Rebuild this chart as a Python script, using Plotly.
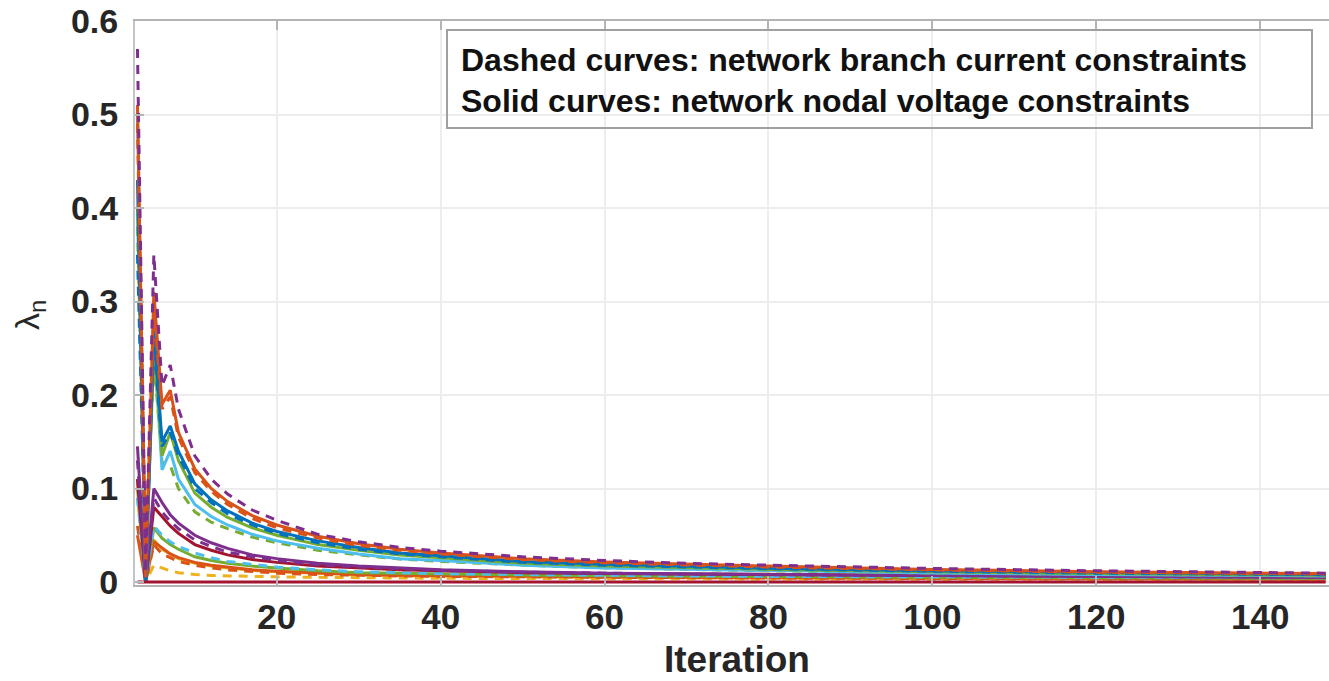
import plotly.graph_objects as go

# ---------------- data ----------------
ITER = [3, 4, 5, 6, 7, 8, 10, 12, 14, 17, 20, 25, 30, 35, 40, 50, 60, 70, 80, 100, 120, 148]

# upper group
purple_dash_u = [0.57, 0.01, 0.35, 0.21, 0.232, 0.185, 0.135, 0.11, 0.094, 0.077, 0.066, 0.051, 0.043, 0.037, 0.033, 0.027, 0.023, 0.020, 0.018, 0.0145, 0.012, 0.0095]
orange_solid_u = [0.51, 0.005, 0.31, 0.19, 0.205, 0.16, 0.121, 0.100, 0.086, 0.071, 0.061, 0.049, 0.041, 0.035, 0.031, 0.025, 0.0215, 0.019, 0.017, 0.0135, 0.011, 0.009]
orange_dash_u = [0.49, 0.02, 0.29, 0.185, 0.198, 0.155, 0.117, 0.097, 0.083, 0.068, 0.058, 0.047, 0.039, 0.034, 0.030, 0.024, 0.0205, 0.018, 0.016, 0.013, 0.0105, 0.0085]
blue_solid_u = [0.43, 0.0, 0.27, 0.15, 0.167, 0.14, 0.105, 0.088, 0.076, 0.063, 0.054, 0.044, 0.037, 0.031, 0.028, 0.022, 0.019, 0.0165, 0.0148, 0.012, 0.010, 0.008]
blue_dash_u = [0.35, 0.02, 0.26, 0.145, 0.16, 0.135, 0.100, 0.085, 0.073, 0.061, 0.052, 0.042, 0.035, 0.030, 0.027, 0.021, 0.018, 0.0158, 0.0142, 0.0115, 0.0095, 0.0078]
green_solid_u = [0.40, 0.01, 0.25, 0.135, 0.16, 0.13, 0.095, 0.080, 0.069, 0.058, 0.050, 0.040, 0.034, 0.029, 0.026, 0.020, 0.017, 0.015, 0.0135, 0.011, 0.009, 0.0072]
lblue_solid_u = [0.51, 0.0, 0.26, 0.12, 0.14, 0.11, 0.083, 0.070, 0.061, 0.051, 0.044, 0.036, 0.030, 0.025, 0.023, 0.018, 0.015, 0.0135, 0.012, 0.0097, 0.008, 0.0065]
green_dash_u = [0.38, 0.03, 0.24, 0.128, 0.125, 0.10, 0.075, 0.064, 0.057, 0.048, 0.042, 0.034, 0.029, 0.0245, 0.022, 0.018, 0.0152, 0.0133, 0.012, 0.0097, 0.0082, 0.0066]

# lower group
purple_solid_l = [0.145, 0.0, 0.10, 0.085, 0.072, 0.063, 0.050, 0.042, 0.036, 0.029, 0.025, 0.020, 0.017, 0.015, 0.013, 0.011, 0.0095, 0.0088, 0.008, 0.007, 0.006, 0.005]
purple_dash_l = [0.13, 0.0, 0.09, 0.075, 0.065, 0.057, 0.045, 0.038, 0.032, 0.027, 0.023, 0.0185, 0.016, 0.014, 0.0125, 0.0105, 0.0093, 0.0085, 0.0078, 0.0068, 0.006, 0.0052]
darkred_solid_l = [0.11, 0.0, 0.08, 0.07, 0.06, 0.052, 0.040, 0.034, 0.029, 0.024, 0.021, 0.017, 0.015, 0.013, 0.012, 0.010, 0.009, 0.0085, 0.0078, 0.0068, 0.006, 0.005]
lblue_dash_l = [0.09, 0.0, 0.06, 0.05, 0.043, 0.038, 0.031, 0.026, 0.022, 0.019, 0.016, 0.013, 0.011, 0.010, 0.009, 0.008, 0.007, 0.0065, 0.006, 0.0055, 0.005, 0.0045]
green_solid_l = [0.10, 0.0, 0.058, 0.047, 0.040, 0.035, 0.027, 0.023, 0.020, 0.017, 0.015, 0.012, 0.010, 0.0092, 0.0085, 0.0075, 0.0068, 0.0062, 0.0058, 0.005, 0.0045, 0.004]
orange_solid_l = [0.05, 0.0, 0.043, 0.036, 0.030, 0.026, 0.021, 0.018, 0.016, 0.013, 0.0115, 0.0095, 0.008, 0.0073, 0.0068, 0.006, 0.0055, 0.005, 0.0048, 0.0042, 0.0038, 0.0033]
orange_dash_l = [0.06, 0.0, 0.04, 0.03, 0.026, 0.022, 0.018, 0.015, 0.013, 0.011, 0.0095, 0.008, 0.007, 0.0065, 0.006, 0.0055, 0.005, 0.0046, 0.0042, 0.0038, 0.0034, 0.003]
yellow_solid_l = [0.09, 0.01, 0.045, 0.035, 0.030, 0.025, 0.020, 0.017, 0.015, 0.0125, 0.011, 0.009, 0.0078, 0.007, 0.0065, 0.0057, 0.005, 0.0047, 0.0044, 0.004, 0.0036, 0.0031]
yellow_dash_l = [0.11, 0.0, 0.018, 0.015, 0.012, 0.010, 0.008, 0.007, 0.0065, 0.006, 0.0055, 0.005, 0.0045, 0.0042, 0.004, 0.0037, 0.0035, 0.0032, 0.003, 0.003, 0.0028, 0.0025]
darkred_zero = [0, 0, 0, 0, 0, 0, 0, 0, 0, 0, 0, 0, 0, 0, 0, 0, 0, 0, 0, 0, 0, 0]

X_TICKS = [20, 40, 60, 80, 100, 120, 140]
Y_TICKS = [0, 0.1, 0.2, 0.3, 0.4, 0.5, 0.6]
Y_TICK_TEXT = ["0", "0.1", "0.2", "0.3", "0.4", "0.5", "0.6"]
NOTE_LINE1 = "Dashed curves: network branch current constraints"
NOTE_LINE2 = "Solid curves: network nodal voltage constraints"
X_TITLE = "Iteration"
Y_TITLE = "λ<sub>n</sub>"

# ---------------- styles ----------------
BLUE, ORANGE, YELLOW, PURPLE = "#0072BD", "#D95319", "#EDB120", "#7E2F8E"
GREEN, LBLUE, DRED = "#77AC30", "#4DBEEE", "#A2142F"
DASH = "9px,7px"

series = [
    (yellow_dash_l, YELLOW, DASH),
    (yellow_solid_l, YELLOW, "solid"),
    (orange_dash_l, ORANGE, DASH),
    (orange_solid_l, ORANGE, "solid"),
    (green_solid_l, GREEN, "solid"),
    (lblue_dash_l, LBLUE, DASH),
    (darkred_solid_l, DRED, "solid"),
    (purple_dash_l, PURPLE, DASH),
    (purple_solid_l, PURPLE, "solid"),
    (green_dash_u, GREEN, DASH),
    (lblue_solid_u, LBLUE, "solid"),
    (green_solid_u, GREEN, "solid"),
    (blue_dash_u, BLUE, DASH),
    (blue_solid_u, BLUE, "solid"),
    (orange_dash_u, ORANGE, DASH),
    (orange_solid_u, ORANGE, "solid"),
    (purple_dash_u, PURPLE, DASH),
    (darkred_zero, DRED, "solid"),
]

fig = go.Figure()
for vals, col, dash in series:
    fig.add_trace(go.Scatter(x=ITER, y=vals, mode="lines",
                             line=dict(color=col, width=3, dash=dash),
                             showlegend=False, hoverinfo="skip"))

FONT = "Liberation Sans, Arial, sans-serif"
W, H = 1329, 681
L, R, T, B = 135, 0, 21, 96
PW, PH = W - L - R, H - T - B


def px(xp):
    return (xp - L) / PW


def py(yp):
    return (H - B - yp) / PH


fig.update_layout(
    width=W, height=H, autosize=False,
    margin=dict(l=L, r=R, t=T, b=B, pad=0),
    paper_bgcolor="white", plot_bgcolor="white",
    xaxis=dict(range=[2.7, 148.4], tickvals=X_TICKS, showgrid=True,
               gridcolor="#ededed", gridwidth=2, zeroline=False,
               showline=True, linecolor="#b4b4b4", linewidth=2, mirror="allticks",
               ticks="inside", ticklen=9, tickwidth=2, tickcolor="#b4b4b4",
               tickfont=dict(family=FONT, size=35, color="#262626", weight="bold"),
               ticklabelstandoff=0),
    yaxis=dict(range=[-0.0032, 0.6], tickvals=Y_TICKS, ticktext=Y_TICK_TEXT,
               showgrid=True, gridcolor="#ededed", gridwidth=2, zeroline=False,
               showline=True, linecolor="#c4c4c4", linewidth=2,
               ticks="inside", ticklen=9, tickwidth=2, tickcolor="#b4b4b4",
               tickfont=dict(family=FONT, size=34, color="#262626", weight="bold"),
               ticklabelstandoff=8),
    shapes=[dict(type="rect", xref="paper", yref="paper",
                 x0=px(447), x1=px(1312), y0=py(128), y1=py(30),
                 line=dict(color="#a0a0a0", width=2), fillcolor="rgba(255,255,255,0)",
                 layer="above")],
    annotations=[
        dict(text=NOTE_LINE1, xref="paper", yref="paper", x=px(459), y=py(60),
             xanchor="left", yanchor="middle", showarrow=False,
             font=dict(family=FONT, size=32, color="#111111", weight="bold")),
        dict(text=NOTE_LINE2, xref="paper", yref="paper", x=px(459), y=py(101),
             xanchor="left", yanchor="middle", showarrow=False,
             font=dict(family=FONT, size=32, color="#111111", weight="bold")),
        dict(text=X_TITLE, xref="paper", yref="paper", x=px(737), y=py(659),
             xanchor="center", yanchor="middle", showarrow=False,
             font=dict(family=FONT, size=37, color="#262626", weight="bold")),
        dict(text=Y_TITLE, xref="paper", yref="paper", x=px(30), y=py(315),
             xanchor="center", yanchor="middle", showarrow=False, textangle=-90,
             font=dict(family=FONT, size=34, color="#262626")),
    ],
)

fig.write_html("out.html")
